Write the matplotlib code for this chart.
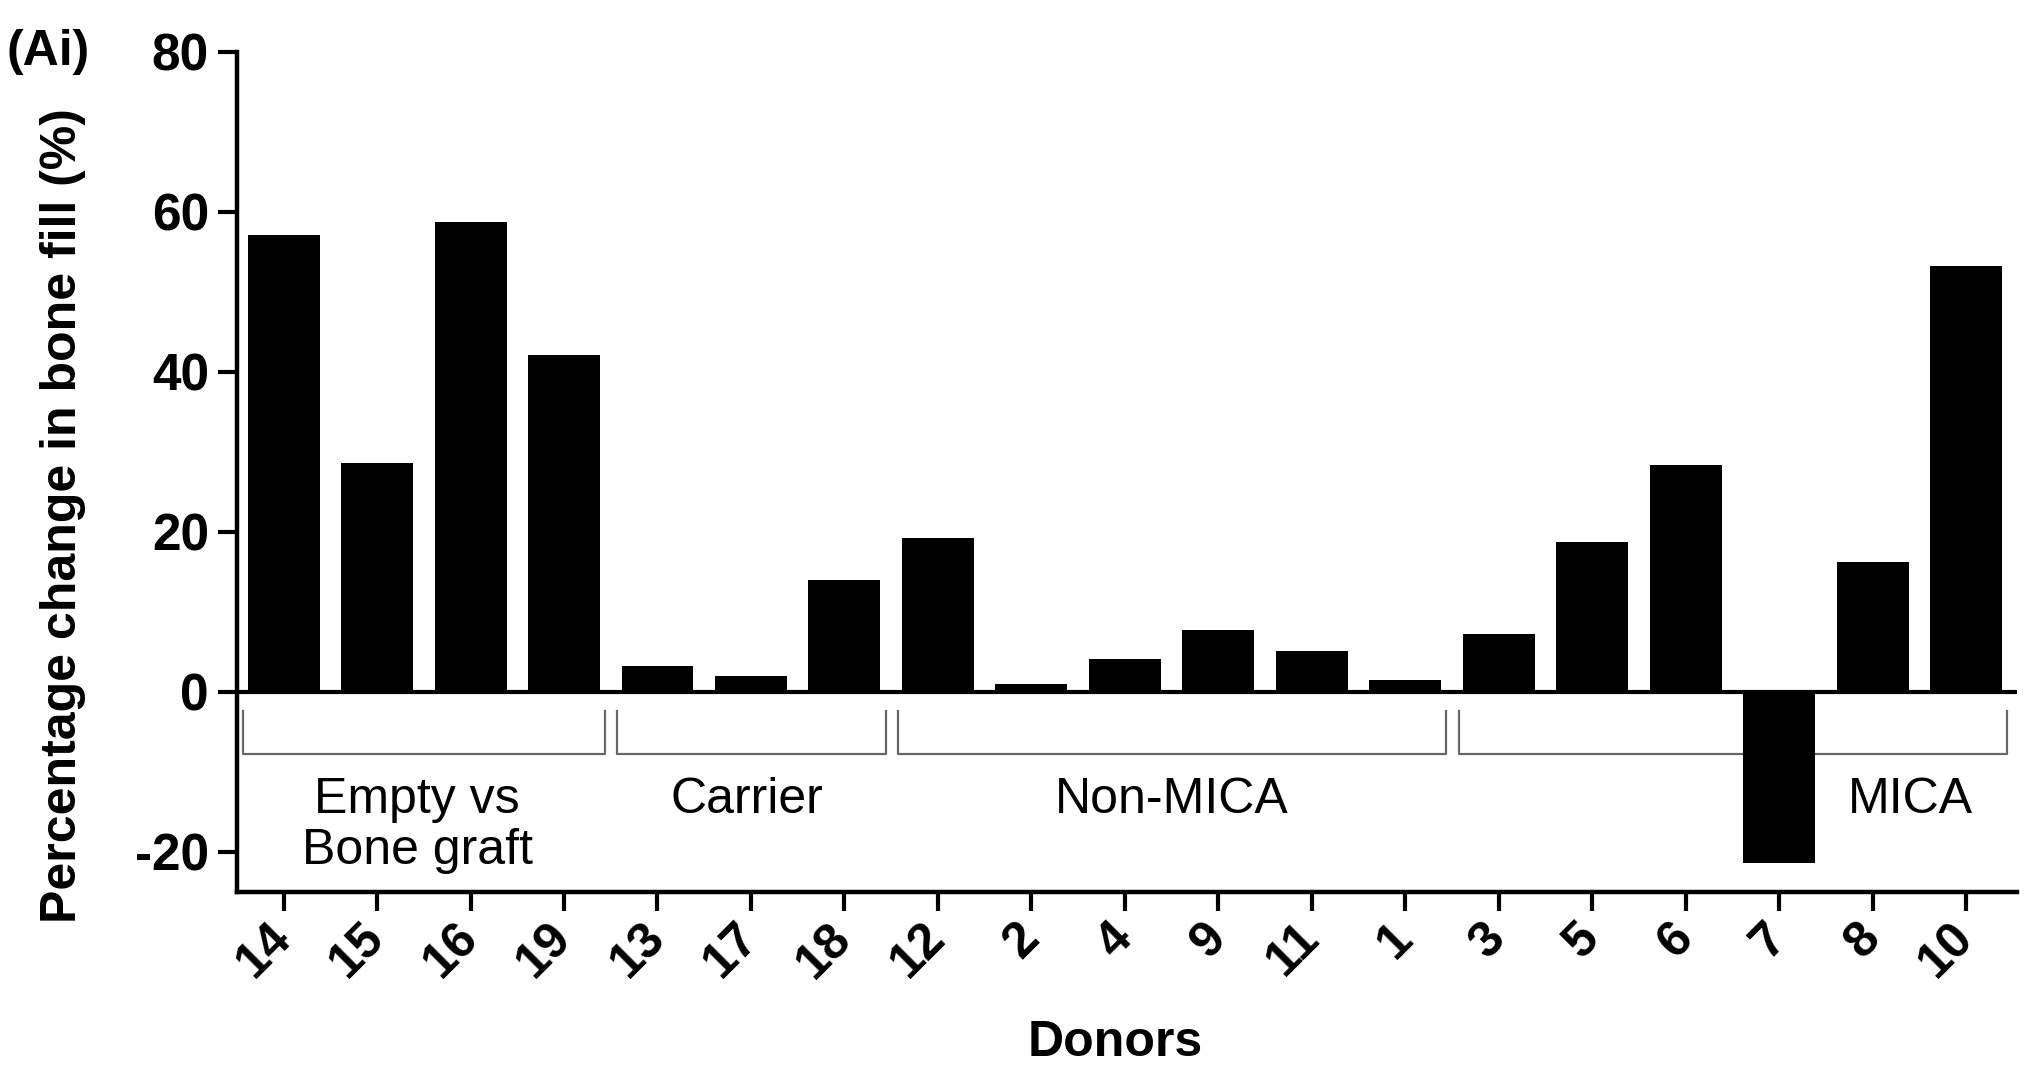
import matplotlib
matplotlib.use("Agg")
import matplotlib.pyplot as plt

plt.rcParams['font.family'] = ['Liberation Sans', 'DejaVu Sans']
plt.rcParams['axes.unicode_minus'] = False

donors = ["14", "15", "16", "19", "13", "17", "18", "12", "2", "4", "9", "11", "1",
          "3", "5", "6", "7", "8", "10"]
bone_fill = [57.1, 28.6, 58.8, 42.1, 3.3, 2.0, 14.0, 19.3, 1.0, 4.1, 7.7, 5.1, 1.5,
             7.2, 18.8, 28.4, -21.4, 16.3, 53.2]

# groups: label, first index, last index
group_names = ["Empty vs\nBone graft", "Carrier", "Non-MICA", "MICA"]
group_first = [0, 4, 7, 13]
group_last = [3, 6, 12, 18]
label_x = [1.43, 4.96, 9.5, 17.4]

fig = plt.figure(figsize=(20.42, 10.82), dpi=100)
ax = fig.add_axes([0.116, 0.1756, 0.872, 0.7764])

xs = list(range(len(donors)))
ax.bar(xs, bone_fill, width=0.77, color="black", zorder=3)
ax.axhline(0, color="black", lw=3, zorder=4)

# brackets
for name, a, b, lx in zip(group_names, group_first, group_last, label_x):
    x0, x1 = a - 0.43, b + 0.44
    ax.plot([x0, x0, x1, x1], [-2.4, -7.7, -7.7, -2.4], color="#666666", lw=1.6, zorder=2)
    ax.text(lx, -10.6, name, ha="center", va="top", fontsize=36, linespacing=1.15)

ax.set_xlim(-0.5, 18.55)
ax.set_ylim(-25, 80)
ax.set_yticks([-20, 0, 20, 40, 60, 80])
ax.set_xticks(xs)
ax.set_xticklabels(donors, rotation=45, ha="right", va="center",
                   rotation_mode="anchor", fontsize=36, fontweight="bold")
for lab in ax.get_yticklabels():
    lab.set_fontsize(37)
    lab.set_fontweight("bold")

ax.spines["top"].set_visible(False)
ax.spines["right"].set_visible(False)
ax.spines["left"].set_linewidth(3.2)
ax.spines["bottom"].set_linewidth(3.2)
ax.tick_params(axis="both", width=3, length=14)
ax.tick_params(axis="x", pad=14)
ax.tick_params(axis="y", pad=6)

ax.set_ylabel("Percentage change in bone fill (%)", fontsize=36, fontweight="bold")
ax.yaxis.set_label_coords(-0.085, 0.448)
ax.set_xlabel("Donors", fontsize=36, fontweight="bold")
ax.xaxis.set_label_coords(0.4935, -0.152)

fig.text(0.003, 0.952, "(Ai)", fontsize=36, fontweight="bold", va="center", ha="left")

fig.savefig("out.png", dpi=100)
